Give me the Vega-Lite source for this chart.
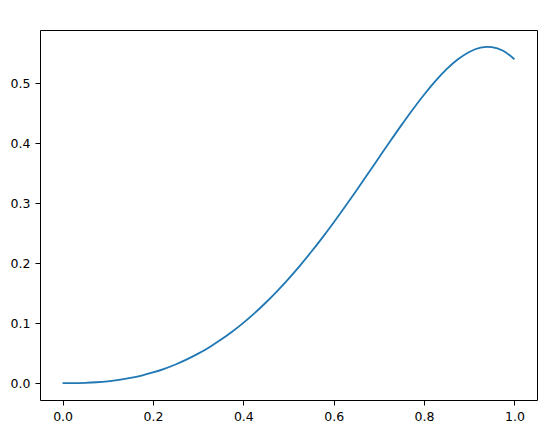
{
  "$schema": "https://vega.github.io/schema/vega-lite/v6.json",
  "width": 497,
  "height": 370,
  "autosize": "none",
  "padding": {"left": 40, "top": 30, "right": 15, "bottom": 32},
  "background": "white",
  "config": {
    "view": {"stroke": "#000000", "strokeWidth": 1},
    "axis": {
      "grid": false,
      "domain": false,
      "ticks": true,
      "tickColor": "#000000",
      "tickWidth": 1,
      "tickSize": 5,
      "labelFont": "DejaVu Sans",
      "labelFontSize": 12.5,
      "labelColor": "#000000",
      "labelPadding": 5,
      "title": null
    }
  },
  "data": {
    "values": [
      {"x": 0.0, "y": 0.0},
      {"x": 0.025, "y": 0.0001},
      {"x": 0.05, "y": 0.00056},
      {"x": 0.075, "y": 0.00154},
      {"x": 0.1, "y": 0.00316},
      {"x": 0.125, "y": 0.00552},
      {"x": 0.15, "y": 0.00871},
      {"x": 0.175, "y": 0.01281},
      {"x": 0.2, "y": 0.01789},
      {"x": 0.225, "y": 0.024},
      {"x": 0.25, "y": 0.03123},
      {"x": 0.275, "y": 0.03963},
      {"x": 0.3, "y": 0.04924},
      {"x": 0.325, "y": 0.06011},
      {"x": 0.35, "y": 0.07228},
      {"x": 0.375, "y": 0.0858},
      {"x": 0.4, "y": 0.10068},
      {"x": 0.425, "y": 0.11693},
      {"x": 0.45, "y": 0.13459},
      {"x": 0.475, "y": 0.15362},
      {"x": 0.5, "y": 0.17402},
      {"x": 0.525, "y": 0.19574},
      {"x": 0.55, "y": 0.21872},
      {"x": 0.575, "y": 0.24287},
      {"x": 0.6, "y": 0.26808},
      {"x": 0.625, "y": 0.29421},
      {"x": 0.65, "y": 0.32106},
      {"x": 0.675, "y": 0.34842},
      {"x": 0.7, "y": 0.37599},
      {"x": 0.725, "y": 0.40347},
      {"x": 0.75, "y": 0.43047},
      {"x": 0.775, "y": 0.45655},
      {"x": 0.8, "y": 0.48118},
      {"x": 0.825, "y": 0.50379},
      {"x": 0.85, "y": 0.52372},
      {"x": 0.875, "y": 0.54023},
      {"x": 0.9, "y": 0.5525},
      {"x": 0.925, "y": 0.55965},
      {"x": 0.94, "y": 0.56108},
      {"x": 0.95, "y": 0.56071},
      {"x": 0.975, "y": 0.55463},
      {"x": 1.0, "y": 0.5403}
    ]
  },
  "mark": {"type": "line", "color": "#1f77b4", "strokeWidth": 1.8, "interpolate": "monotone", "clip": true},
  "encoding": {
    "x": {
      "field": "x",
      "type": "quantitative",
      "scale": {"domain": [-0.05, 1.05], "nice": false, "zero": false},
      "axis": {"values": [0, 0.2, 0.4, 0.6, 0.8, 1.0], "format": ".1f"}
    },
    "y": {
      "field": "y",
      "type": "quantitative",
      "scale": {"domain": [-0.02805, 0.58913], "nice": false, "zero": false},
      "axis": {"values": [0, 0.1, 0.2, 0.3, 0.4, 0.5], "format": ".1f"}
    }
  }
}
